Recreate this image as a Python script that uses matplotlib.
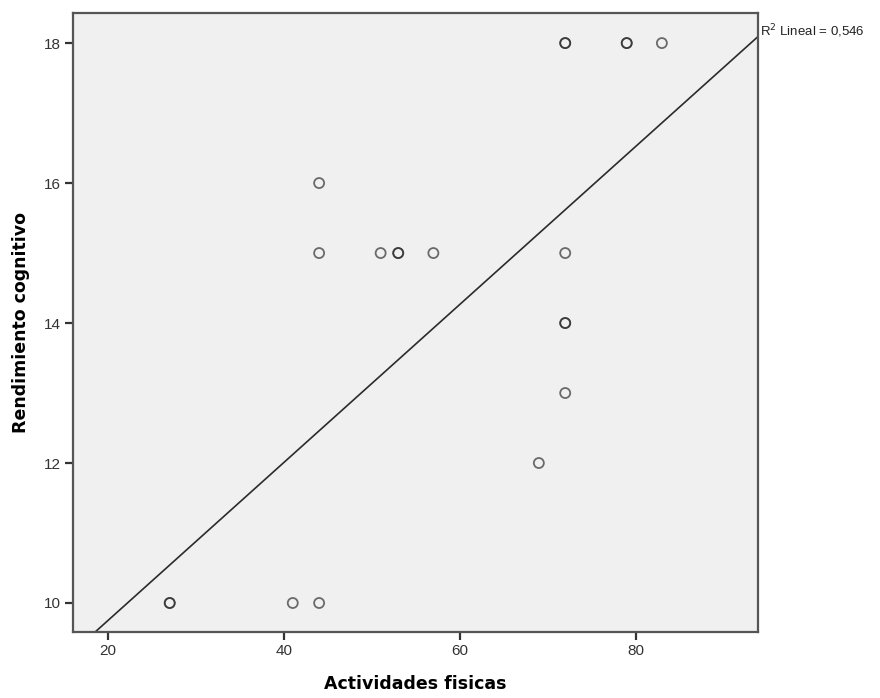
import matplotlib.pyplot as plt
import numpy as np

# points; repeated pairs are the bolder circles
actividades = [27, 27, 41, 44, 44, 44, 51, 53, 53, 57, 69, 72, 72, 72, 72, 72, 72, 79, 79, 83]
rendimiento = [10, 10, 10, 10, 15, 16, 15, 15, 15, 15, 12, 13, 14, 14, 15, 18, 18, 18, 18, 18]

# fitted line as drawn in the chart
slope = 0.1128
intercept = 7.497
r2_label = "R$^2$ Lineal = 0,546"

XLIM = (16.0, 93.9)
YLIM = (9.586, 18.43)

fig = plt.figure(figsize=(8.8, 6.98), dpi=100)
ax = fig.add_axes([0.083, 0.0946, 0.778, 0.8868])
ax.set_facecolor("#f0f0f0")

ax.scatter(actividades, rendimiento, s=52, facecolors="none",
           edgecolors="#222222", linewidths=1.3, alpha=0.65, zorder=3)

xs = np.array(XLIM)
ax.plot(xs, intercept + slope * xs, color="#2b2b2b", lw=1.2, zorder=2)

ax.set_xlim(*XLIM)
ax.set_ylim(*YLIM)
ax.set_xticks([20, 40, 60, 80])
ax.set_yticks([10, 12, 14, 16, 18])

for s in ax.spines.values():
    s.set_color("#555555")
    s.set_linewidth(1.6)
ax.tick_params(direction="out", length=6, width=1.6, color="#333333",
               labelsize=11, labelcolor="#333333", pad=3)
for lab in ax.get_xticklabels() + ax.get_yticklabels():
    lab.set_family("Liberation Sans")

ax.set_xlabel("Actividades fisicas", fontsize=12.5, fontweight="bold", labelpad=12)
ax.set_ylabel("Rendimiento cognitivo", fontsize=12.5, fontweight="bold", labelpad=10)

ax.text(1.003, 0.985, r2_label, transform=ax.transAxes, ha="left", va="top",
        fontsize=9.5, family="Liberation Sans", color="#222222")

fig.savefig("out.png", dpi=100)
